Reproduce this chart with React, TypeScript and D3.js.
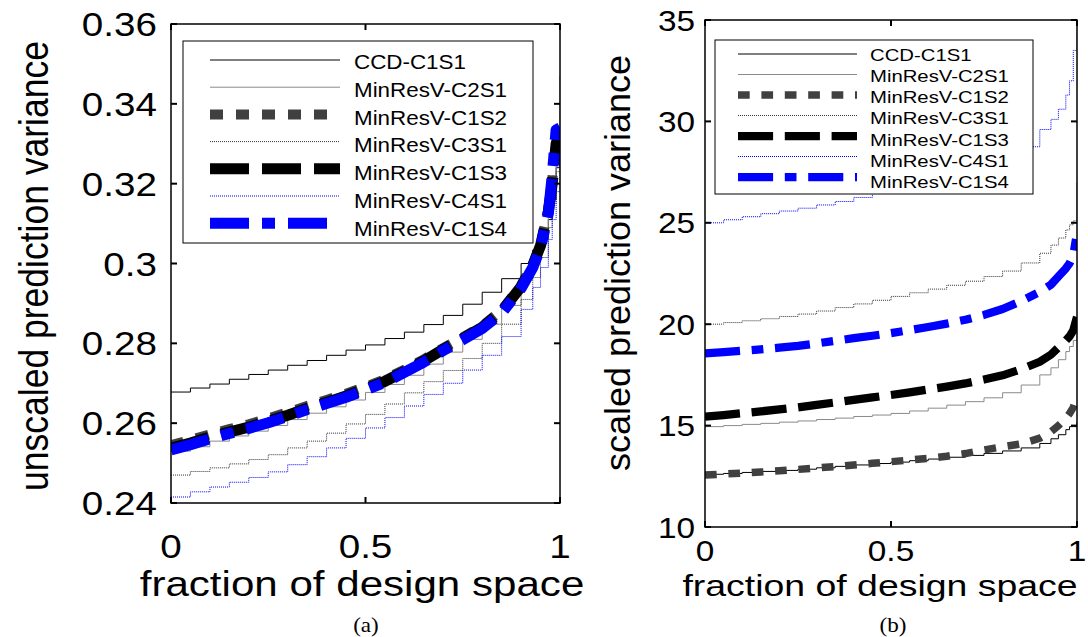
import React, { useRef, useEffect } from 'react'
import * as d3 from 'd3'

const fractions = [0, 0.05, 0.1, 0.15, 0.2, 0.25, 0.3, 0.35, 0.4, 0.45, 0.5, 0.55, 0.6, 0.65, 0.7, 0.75, 0.8, 0.85, 0.9, 0.93, 0.95, 0.97, 0.98, 0.99, 1]

const seriesNames = ['CCD-C1S1', 'MinResV-C2S1', 'MinResV-C1S2', 'MinResV-C3S1', 'MinResV-C1S3', 'MinResV-C4S1', 'MinResV-C1S4']

// (a) unscaled prediction variance
const unscaledCCD = [0.2678, 0.2688, 0.2698, 0.271, 0.2722, 0.2733, 0.2745, 0.2757, 0.277, 0.2783, 0.2796, 0.2812, 0.2828, 0.2847, 0.287, 0.2898, 0.2928, 0.2962, 0.3, 0.3034, 0.3062, 0.311, 0.316, 0.324, 0.334]
const unscaledC2S1 = [0.253, 0.2541, 0.2555, 0.2568, 0.258, 0.2594, 0.2609, 0.2625, 0.2641, 0.2658, 0.2677, 0.2697, 0.272, 0.2748, 0.2778, 0.281, 0.2848, 0.2895, 0.296, 0.3015, 0.3065, 0.315, 0.322, 0.333, 0.347]
const unscaledC1S2 = [0.2545, 0.2558, 0.2572, 0.2585, 0.2597, 0.2612, 0.2627, 0.2643, 0.2658, 0.2674, 0.2691, 0.271, 0.2734, 0.276, 0.2788, 0.2815, 0.2843, 0.2883, 0.2945, 0.2998, 0.3048, 0.3135, 0.321, 0.331, 0.333]
const unscaledC3S1 = [0.247, 0.2479, 0.2488, 0.2498, 0.2509, 0.2521, 0.2538, 0.2555, 0.2575, 0.2598, 0.2622, 0.2648, 0.2676, 0.2704, 0.2732, 0.2762, 0.28, 0.2848, 0.291, 0.2965, 0.3015, 0.309, 0.315, 0.323, 0.33]
const unscaledC1S3 = [0.2537, 0.255, 0.2565, 0.2578, 0.259, 0.2605, 0.262, 0.2637, 0.2652, 0.2668, 0.2686, 0.2705, 0.273, 0.2756, 0.2785, 0.2812, 0.284, 0.288, 0.2942, 0.2995, 0.3045, 0.313, 0.32, 0.33, 0.333]
const unscaledC4S1 = [0.2415, 0.2428, 0.244, 0.2452, 0.2464, 0.2478, 0.2496, 0.2516, 0.2538, 0.2562, 0.2588, 0.2614, 0.2643, 0.2672, 0.27, 0.2733, 0.277, 0.2817, 0.2885, 0.294, 0.299, 0.306, 0.311, 0.318, 0.325]
const unscaledC1S4 = [0.2533, 0.2546, 0.2561, 0.2574, 0.2587, 0.2601, 0.2617, 0.2634, 0.2649, 0.2665, 0.2683, 0.2702, 0.2727, 0.2753, 0.2782, 0.2809, 0.2837, 0.2876, 0.2938, 0.299, 0.304, 0.3125, 0.322, 0.3335, 0.334]

// (b) scaled prediction variance
const scaledCCD = [12.6, 12.64, 12.69, 12.74, 12.79, 12.85, 12.92, 12.99, 13.06, 13.13, 13.2, 13.27, 13.35, 13.44, 13.53, 13.63, 13.75, 13.9, 14.12, 14.35, 14.55, 14.8, 14.95, 14.95, 15.2]
const scaledC2S1 = [14.95, 15.0, 15.06, 15.11, 15.17, 15.23, 15.3, 15.37, 15.45, 15.52, 15.6, 15.72, 15.86, 16.01, 16.18, 16.37, 16.62, 17.0, 17.5, 17.85, 18.25, 18.65, 18.9, 19.2, 19.6]
const scaledC1S2 = [12.56, 12.61, 12.66, 12.71, 12.77, 12.84, 12.91, 12.98, 13.06, 13.14, 13.22, 13.3, 13.39, 13.49, 13.62, 13.8, 13.96, 14.1, 14.38, 14.7, 15.0, 15.35, 15.6, 15.9, 16.43]
const scaledC3S1 = [20.0, 20.08, 20.17, 20.27, 20.38, 20.5, 20.65, 20.82, 21.0, 21.18, 21.37, 21.55, 21.73, 21.92, 22.12, 22.35, 22.62, 23.02, 23.5, 23.9, 24.25, 24.65, 24.9, 25.1, 27.0]
const scaledC1S3 = [15.44, 15.52, 15.61, 15.7, 15.8, 15.9, 16.02, 16.14, 16.27, 16.39, 16.51, 16.64, 16.78, 16.92, 17.08, 17.27, 17.48, 17.78, 18.15, 18.5, 18.85, 19.2, 19.4, 19.7, 20.36]
const scaledC4S1 = [25.0, 25.15, 25.3, 25.45, 25.58, 25.72, 25.88, 26.05, 26.25, 26.45, 26.65, 26.85, 27.05, 27.3, 27.55, 27.85, 28.2, 28.75, 29.6, 30.1, 30.6, 31.3, 32.0, 33.5, 34.5]
const scaledC1S4 = [18.56, 18.62, 18.69, 18.76, 18.84, 18.93, 19.05, 19.18, 19.31, 19.43, 19.56, 19.71, 19.86, 20.03, 20.22, 20.46, 20.75, 21.14, 21.6, 21.95, 22.35, 22.75, 23.0, 23.4, 24.5]

const xTicks = [0, 0.5, 1]
const xTickLabels = ['0', '0.5', '1']
const unscaledTicks = [0.24, 0.26, 0.28, 0.3, 0.32, 0.34, 0.36]
const unscaledTickLabels = ['0.24', '0.26', '0.28', '0.3', '0.32', '0.34', '0.36']
const scaledTicks = [10, 15, 20, 25, 30, 35]
const scaledTickLabels = ['10', '15', '20', '25', '30', '35']

const seriesStyles = [
  { color: '#000000', width: 1, dash: null, step: true },
  { color: '#8a8a8a', width: 1, dash: null, step: true },
  { color: '#404040', width: 10, dash: [13, 13], step: false },
  { color: '#333333', width: 1, dash: [1, 1], step: true },
  { color: '#000000', width: 11, dash: [39, 13], step: false },
  { color: '#0000ff', width: 1, dash: [1, 1], step: true },
  { color: '#0000ff', width: 11, dash: [39, 13, 13, 13], step: false },
]

const SANS = '"Liberation Sans", Arial, sans-serif'

const panels = [
  {
    id: 'a',
    x0: 171, x1: 560, yTop: 24, yBot: 503,
    yDomain: [0.24, 0.36],
    yTicks: unscaledTicks, yTickLabels: unscaledTickLabels,
    tickFont: 33, tickSx: 1.17, yTickRight: 157, yTickDy: 12, xTickBase: 558,
    xLabel: 'fraction of design space', xLabelFont: 36, xLabelSx: 1.17, xLabelX: 362, xLabelY: 596,
    yLabel: 'unscaled prediction variance', yLabelFont: 35.5, yLabelSx: 1.12, yLabelX: 48, yLabelY: 266,
    caption: '(a)', captionX: 366,
    legend: { x: 183, y: 41, w: 350, h: 202, lx0: 210, lx1: 340, tx: 354, ly0: 60, ldy: 27.2, ty0: 69, tdy: 27.8, font: 20, sx: 1.12 },
    widthScale: 1, dashScale: 1,
    data: [unscaledCCD, unscaledC2S1, unscaledC1S2, unscaledC3S1, unscaledC1S3, unscaledC4S1, unscaledC1S4],
  },
  {
    id: 'b',
    x0: 705, x1: 1077, yTop: 20, yBot: 527,
    yDomain: [10, 35],
    yTicks: scaledTicks, yTickLabels: scaledTickLabels,
    tickFont: 29, tickSx: 1.15, yTickRight: 695, yTickDy: 10.5, xTickBase: 561,
    xLabel: 'fraction of design space', xLabelFont: 29, xLabelSx: 1.29, xLabelX: 880, xLabelY: 596,
    yLabel: 'scaled prediction variance', yLabelFont: 36, yLabelSx: 0.95, yLabelX: 630, yLabelY: 263,
    caption: '(b)', captionX: 893,
    legend: { x: 715, y: 40, w: 318, h: 154, lx0: 738, lx1: 857, tx: 870, ly0: 54, ldy: 20.5, ty0: 60.7, tdy: 21.2, font: 16, sx: 1.27 },
    widthScale: 0.75, dashScale: 0.9,
    data: [scaledCCD, scaledC2S1, scaledC1S2, scaledC3S1, scaledC1S3, scaledC4S1, scaledC1S4],
  },
]

const stretchText = (g, x, y, str, size, anchor, sx, family = SANS) =>
  g.append('text')
    .attr('transform', `translate(${x},${y}) scale(${sx},1)`)
    .attr('text-anchor', anchor)
    .attr('font-family', family)
    .attr('font-size', size)
    .attr('fill', '#000')
    .text(str)

export default function App() {
  const d3Container = useRef(null)

  useEffect(() => {
    const svg = d3.select(d3Container.current)
    svg.selectAll('*').remove()

    panels.forEach(p => {
      const x = d3.scaleLinear().domain([0, 1]).range([p.x0, p.x1])
      const y = d3.scaleLinear().domain(p.yDomain).range([p.yBot, p.yTop])
      const g = svg.append('g')

      g.append('clipPath').attr('id', `clip-${p.id}`)
        .append('rect')
        .attr('x', p.x0).attr('y', p.yTop)
        .attr('width', p.x1 - p.x0).attr('height', p.yBot - p.yTop)

      // curves
      const curves = g.append('g').attr('clip-path', `url(#clip-${p.id})`)
      p.data.forEach((vals, i) => {
        const st = seriesStyles[i]
        const line = d3.line()
          .x((d, k) => x(fractions[k]))
          .y(d => y(d))
          .curve(st.step ? d3.curveStepAfter : d3.curveLinear)
        const w = st.width > 1 ? st.width * p.widthScale : st.width
        curves.append('path')
          .attr('d', line(vals))
          .attr('fill', 'none')
          .attr('stroke', st.color)
          .attr('stroke-width', w)
          .attr('stroke-linejoin', 'round')
          .attr('stroke-dasharray', st.dash ? st.dash.map(v => st.width > 1 ? v * p.dashScale : v).join(' ') : null)
      })

      // axes box and ticks
      g.append('rect')
        .attr('x', p.x0).attr('y', p.yTop)
        .attr('width', p.x1 - p.x0).attr('height', p.yBot - p.yTop)
        .attr('fill', 'none').attr('stroke', '#000').attr('stroke-width', 1.5)

      const tl = 6
      p.yTicks.forEach((t, i) => {
        const yy = y(t)
        g.append('line').attr('x1', p.x0).attr('x2', p.x0 + tl).attr('y1', yy).attr('y2', yy)
          .attr('stroke', '#000').attr('stroke-width', 2)
        g.append('line').attr('x1', p.x1).attr('x2', p.x1 - tl).attr('y1', yy).attr('y2', yy)
          .attr('stroke', '#000').attr('stroke-width', 2)
        stretchText(g, p.yTickRight, yy + p.yTickDy, p.yTickLabels[i], p.tickFont, 'end', p.tickSx)
      })
      xTicks.forEach((t, i) => {
        const xx = x(t)
        g.append('line').attr('x1', xx).attr('x2', xx).attr('y1', p.yBot).attr('y2', p.yBot - tl)
          .attr('stroke', '#000').attr('stroke-width', 2)
        g.append('line').attr('x1', xx).attr('x2', xx).attr('y1', p.yTop).attr('y2', p.yTop + tl)
          .attr('stroke', '#000').attr('stroke-width', 2)
        stretchText(g, xx, p.xTickBase, xTickLabels[i], p.tickFont, 'middle', p.tickSx)
      })

      // axis labels
      stretchText(g, p.xLabelX, p.xLabelY, p.xLabel, p.xLabelFont, 'middle', p.xLabelSx)
      g.append('text')
        .attr('transform', `translate(${p.yLabelX},${p.yLabelY}) scale(${p.yLabelSx},1) rotate(-90)`)
        .attr('text-anchor', 'middle')
        .attr('font-family', SANS)
        .attr('font-size', p.yLabelFont)
        .text(p.yLabel)

      // caption
      stretchText(g, p.captionX, 632, p.caption, 21, 'middle', 1.1, '"Liberation Serif", "Times New Roman", serif')

      // legend
      const L = p.legend
      const lg = g.append('g')
      lg.append('rect')
        .attr('x', L.x).attr('y', L.y).attr('width', L.w).attr('height', L.h)
        .attr('fill', '#fff').attr('stroke', '#000').attr('stroke-width', 1)
      seriesNames.forEach((name, i) => {
        const st = seriesStyles[i]
        const ly = L.ly0 + i * L.ldy
        const w = st.width > 1 ? st.width * p.widthScale : st.width
        lg.append('line')
          .attr('x1', L.lx0).attr('x2', L.lx1).attr('y1', ly).attr('y2', ly)
          .attr('stroke', st.color)
          .attr('stroke-width', w)
          .attr('stroke-dasharray', st.dash ? st.dash.map(v => st.width > 1 ? v * p.dashScale : v).join(' ') : null)
        stretchText(lg, L.tx, L.ty0 + i * L.tdy, name, L.font, 'start', L.sx)
      })
    })
  }, [])

  return (
    <svg
      ref={d3Container}
      width={1088}
      height={637}
      style={{ position: 'absolute', left: 0, top: 0, background: '#fff' }}
    ></svg>
  )
}
